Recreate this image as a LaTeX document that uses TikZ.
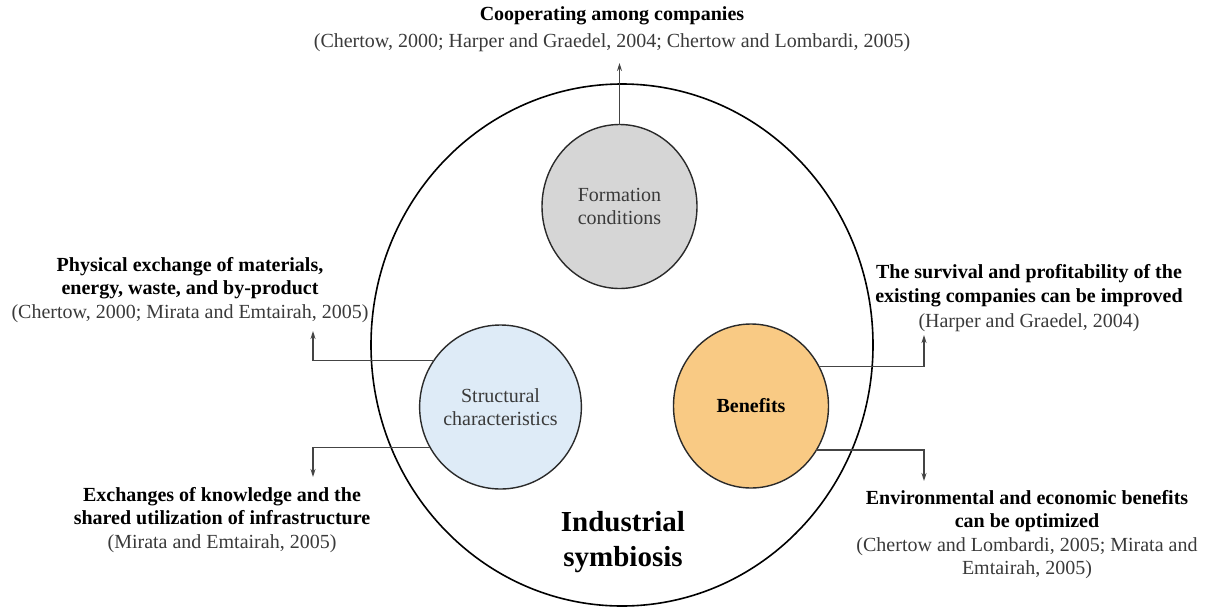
\documentclass[tikz,border=0pt]{standalone}
\usepackage{fontspec}
\setmainfont{Liberation Serif}
\usetikzlibrary{arrows.meta,shapes.geometric}
\definecolor{fgray}{HTML}{D6D6D6}
\definecolor{fblue}{HTML}{DEEBF7}
\definecolor{forange}{HTML}{F9CA84}
\definecolor{linec}{HTML}{2A2A2A}
\definecolor{connc}{HTML}{444444}
\definecolor{citec}{HTML}{3A3A3A}
\begin{document}
\begin{tikzpicture}[x=1pt,y=-1pt,
  bubble/.style={ellipse,draw=linec,line width=1.4pt,inner sep=0pt,outer sep=0pt,
    minimum width=155pt,minimum height=164pt,align=center,text=citec,font=\fontsize{20}{23}\selectfont},
  conn/.style={draw=connc,line width=1.3pt,-{Stealth[length=8pt,width=5pt]}},
  lbl/.style={align=center,font=\fontsize{20}{23.5}\selectfont,inner sep=0pt,text=citec},
]
\useasboundingbox (0,0) rectangle (1213,611);
% outer ellipse
\node[ellipse,draw=black,line width=1.6pt,minimum width=502pt,minimum height=522pt,inner sep=0pt] (outer) at (622,345) {};
% inner circles
\node[bubble,fill=fgray] (f) at (619.5,206.5) {Formation\\conditions};
\node[bubble,fill=fblue] (s) at (500.5,407) {Structural\\characteristics};
\node[bubble,fill=forange,text=black,font=\fontsize{20}{23}\selectfont\bfseries] (b) at (751,406) {Benefits};
% central title
\node[align=center,inner sep=0pt,font=\fontsize{29}{35}\selectfont\bfseries] (title) at (623,542) {Industrial\\symbiosis};
% text blocks
\node[lbl] (ttop) at (612,29) {{\bfseries\color{black}Cooperating among companies}\\[3pt](Chertow, 2000; Harper and Graedel, 2004; Chertow and Lombardi, 2005)};
\node[lbl] (tlu) at (190,290) {{\bfseries\color{black}Physical exchange of materials,}\\{\bfseries\color{black}energy, waste, and by-product}\\(Chertow, 2000; Mirata and Emtairah, 2005)};
\node[lbl] (tru) at (1029,298.5) {{\bfseries\color{black}The survival and profitability of the}\\{\bfseries\color{black}existing companies can be improved}\\[2pt](Harper and Graedel, 2004)};
\node[lbl] (tll) at (222,520) {{\bfseries\color{black}Exchanges of knowledge and the}\\{\bfseries\color{black}shared utilization of infrastructure}\\(Mirata and Emtairah, 2005)};
\node[lbl] (trl) at (1027,534.5) {{\bfseries\color{black}Environmental and economic benefits}\\{\bfseries\color{black}can be optimized}\\(Chertow and Lombardi, 2005; Mirata and\\Emtairah, 2005)};
% arrow end points
\coordinate (etop) at (619.5,63);
\coordinate (elu) at (313,331);
\coordinate (ell) at (313,477);
\coordinate (eru) at (924,335);
\coordinate (erl) at (924,481);
% connectors
\draw[conn] (f.north) -- (etop);
\draw[conn] (s.145.2) -| (elu);
\draw[conn] (s.210.6) -| (ell);
\draw[conn] (b.30.8) -| (eru);
\draw[conn] (b.-34.1) -| (erl);
\end{tikzpicture}
\end{document}
